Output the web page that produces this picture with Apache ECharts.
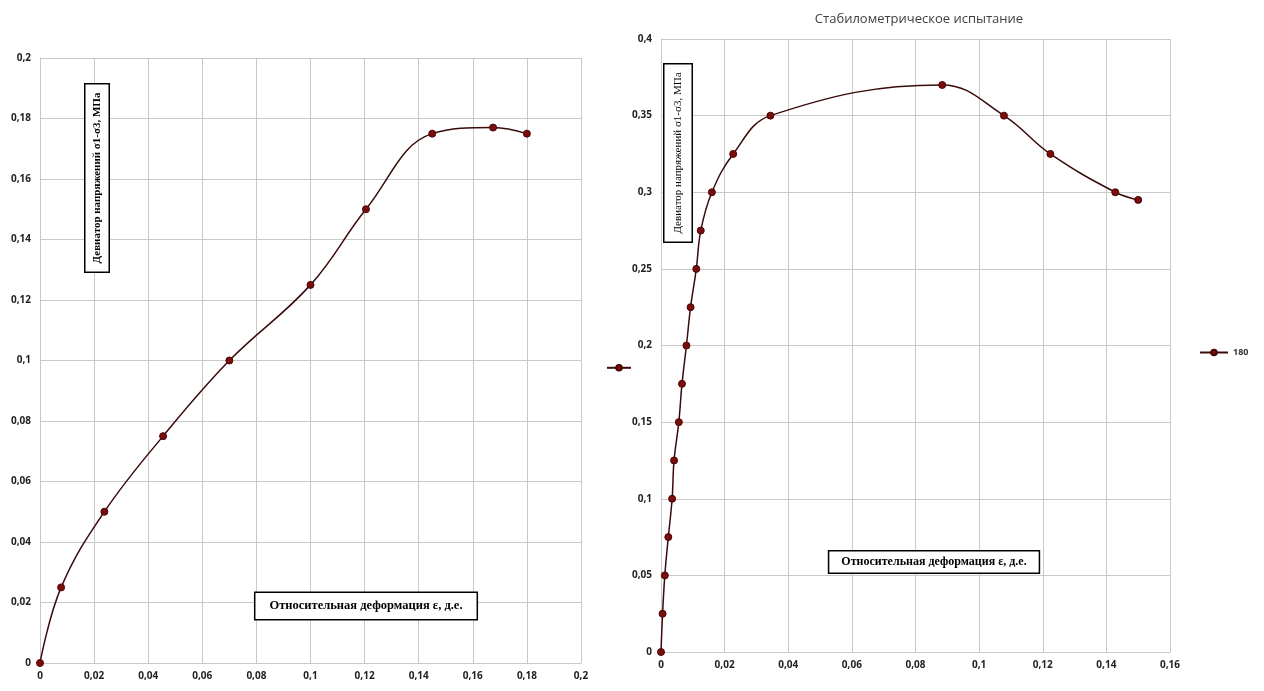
<!DOCTYPE html>
<html><head><meta charset="utf-8">
<script src="https://cdn.jsdelivr.net/npm/echarts@6/dist/echarts.min.js"></script>
<style>html,body{margin:0;padding:0;background:#fff}#c{width:1264px;height:691px}</style>
</head><body><div id="c"></div>
<script>
// Left chart data
const leftStrain = [0, 0.0078, 0.0238, 0.0455, 0.07, 0.1, 0.1205, 0.145, 0.1675, 0.18];
const leftStress = [0, 0.025, 0.05, 0.075, 0.1, 0.125, 0.15, 0.175, 0.177, 0.175];
// Right chart data (series "180")
const rightStrain = [0, 0.0005, 0.0012, 0.0023, 0.0035, 0.0041, 0.0056, 0.0066, 0.008, 0.0093, 0.0111, 0.0125, 0.016, 0.0227, 0.0344, 0.0884, 0.1078, 0.1224, 0.1428, 0.15];
const rightStress = [0, 0.025, 0.05, 0.075, 0.1, 0.125, 0.15, 0.175, 0.2, 0.225, 0.25, 0.275, 0.3, 0.325, 0.35, 0.37, 0.35, 0.325, 0.3, 0.295];
const rightSeriesName = '180';
const chartTitle = 'Стабилометрическое испытание';
const yAxisTitle = 'Девиатор напряжений σ1-σ3, МПа';
const xAxisTitle = 'Относительная деформация ε, д.е.';

const fmt = v => String(Number(v.toFixed(4))).replace('.', ',');
const gridColor = '#c9c9c9';
const lineColor = '#3b0a0a';
const markColor = '#7a0c0c';
const labelStyle = {color: '#222', fontFamily: 'Open Sans', fontWeight: 'bold', fontSize: 10};

function axis(min, max, interval, isX) {
  return {
    type: 'value', min, max, interval,
    axisLine: {show: true, lineStyle: {color: gridColor, width: 1}},
    axisTick: {show: false},
    splitLine: {show: true, lineStyle: {color: gridColor, width: 1}},
    axisLabel: Object.assign({formatter: fmt, margin: isX ? 8 : 9}, labelStyle)
  };
}
function zip(a, b) { return a.map((x, i) => [x, b[i]]); }
function series(name, xi, yi, xs, ys) {
  return {
    name, type: 'line', xAxisIndex: xi, yAxisIndex: yi,
    data: zip(xs, ys), smooth: 0.4, smoothMonotone: 'none',
    symbol: 'circle', symbolSize: 7, showSymbol: true,
    lineStyle: {color: lineColor, width: 1.5},
    itemStyle: {color: markColor, borderColor: '#4a0505', borderWidth: 1},
    emphasis: {disabled: true}
  };
}
function boxText(x, y, text, rot, font, pad) {
  return {
    type: 'text', x, y, rotation: rot, z: 100,
    style: {text, font, fill: '#000', align: 'center', verticalAlign: 'middle',
      backgroundColor: '#fff', borderColor: '#000', borderWidth: 1.5, padding: pad}
  };
}

const chart = echarts.init(document.getElementById('c'), null, {renderer: 'canvas'});
chart.setOption({
  animation: false,
  title: {text: chartTitle, left: 914, top: 8, textAlign: 'center',
    textStyle: {fontFamily: 'Open Sans', fontSize: 13, fontWeight: 'normal', color: '#404040'}},
  grid: [
    {left: 40, top: 58, width: 541, height: 605},
    {left: 661, top: 39, width: 509, height: 613}
  ],
  xAxis: [axis(0, 0.2, 0.02, true), Object.assign(axis(0, 0.16, 0.02, true), {gridIndex: 1})],
  yAxis: [axis(0, 0.2, 0.02, false), Object.assign(axis(0, 0.4, 0.05, false), {gridIndex: 1})],
  legend: [
    {data: [rightSeriesName], left: 1194, top: 343, orient: 'vertical', itemWidth: 28, itemHeight: 7, itemGap: 4,
      textStyle: {fontFamily: 'Open Sans', fontSize: 9, fontWeight: 'bold', color: '#333'}},
    {data: ['left'], left: 601, top: 359, itemWidth: 24, itemHeight: 7, formatter: () => '',
      textStyle: {fontSize: 9}}
  ],
  series: [
    series('left', 0, 0, leftStrain, leftStress),
    series(rightSeriesName, 1, 1, rightStrain, rightStress)
  ],
  graphic: [
    boxText(97, 178, yAxisTitle, Math.PI / 2, 'bold 11px "Liberation Serif"', [6, 8, 6, 8]),
    boxText(678, 153, yAxisTitle, Math.PI / 2, '11px "Liberation Serif"', [8, 8, 8, 8]),
    boxText(366, 606, xAxisTitle, 0, 'bold 12.5px "Liberation Serif"', [7, 14, 6, 14]),
    boxText(934, 562, xAxisTitle, 0, 'bold 12px "Liberation Serif"', [5, 12, 4, 12])
  ]
});
</script></body></html>
